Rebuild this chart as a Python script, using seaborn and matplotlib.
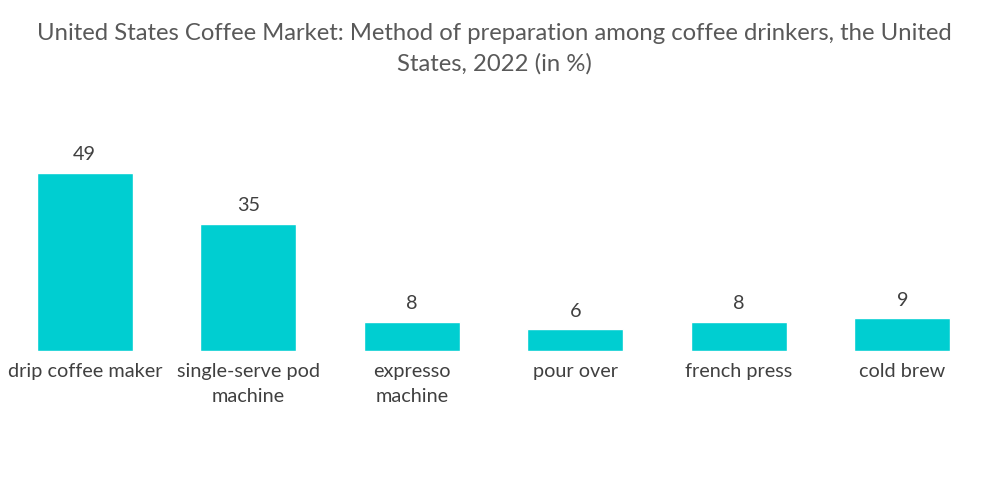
import matplotlib
matplotlib.use("Agg")
import matplotlib.pyplot as plt
import seaborn as sns
import pandas as pd

# data
methods = ["drip coffee maker", "single-serve pod\nmachine", "expresso\nmachine",
           "pour over", "french press", "cold brew"]
shares = [49, 35, 8, 6, 8, 9]

df = pd.DataFrame({"method": methods, "share": shares})

sns.set_theme(style="white")
plt.rcParams['font.family'] = ['Lato', 'DejaVu Sans']

fig = plt.figure(figsize=(10, 5.04), dpi=100)
ax = fig.add_axes([0.003, 0.304, 0.981, 0.40])

sns.barplot(data=df, x="method", y="share", color="#00CED1", width=0.59,
            saturation=1, ax=ax)

for i, v in enumerate(shares):
    ax.text(i, v + 2.6, f"{v}", ha="center", va="bottom", fontsize=14.3, color="#404040")

ax.set_xlim(-0.5, len(methods) - 0.5)
ax.set_ylim(0, 55.5)
ax.set_xlabel("")
ax.set_ylabel("")
ax.set_yticks([])
ax.tick_params(axis="x", length=0, pad=9, labelsize=14.3, labelcolor="#404040")
for lbl in ax.get_xticklabels():
    lbl.set_linespacing(1.55)
sns.despine(ax=ax, left=True, bottom=True)

fig.suptitle("United States Coffee Market: Method of preparation among coffee drinkers, the United\nStates, 2022 (in %)",
             x=0.494, y=0.955, fontsize=17.2, color="#595959", linespacing=1.55)

fig.savefig("out.png", dpi=100)
